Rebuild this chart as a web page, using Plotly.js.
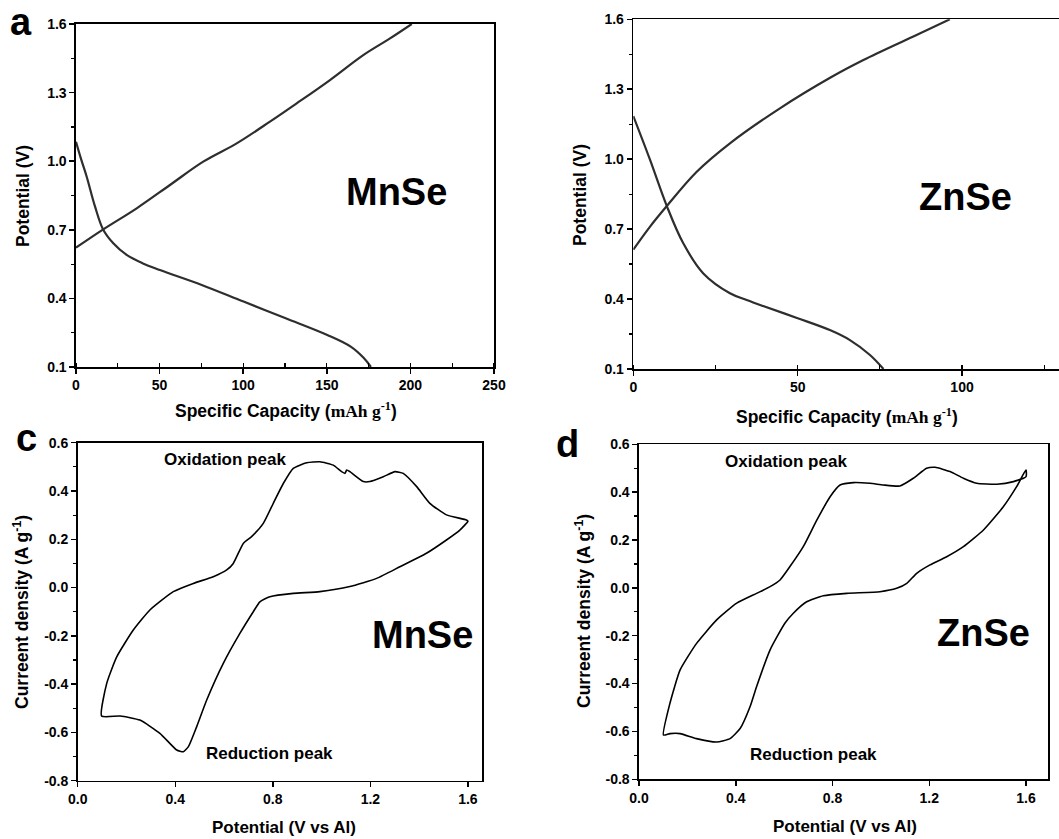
<!DOCTYPE html>
<html>
<head>
<meta charset="utf-8">
<script src="https://cdn.plot.ly/plotly-3.0.1.min.js"></script>
<style>html,body{margin:0;padding:0;background:#fff}#chart{width:1059px;height:839px}</style>
</head>
<body>
<div id="chart"></div>
<script>
// ---- Panel a: MnSe charge/discharge ----
const capA_charge = [0, 16.3, 36.3, 56.2, 76.1, 96.1, 116, 132, 151.9, 171.8, 187.8, 200.8];
const VA_charge   = [0.622, 0.702, 0.794, 0.896, 0.998, 1.078, 1.173, 1.253, 1.355, 1.464, 1.537, 1.6];
const capA_dis = [0, 3, 6.4, 11.4, 16.3, 22.3, 30.3, 40, 50.2, 75.2, 100.2, 125.4, 150.3, 164.3, 172, 176.4];
const VA_dis   = [1.085, 1.01, 0.932, 0.801, 0.70, 0.641, 0.59, 0.553, 0.524, 0.459, 0.386, 0.313, 0.240, 0.189, 0.14, 0.1];

// ---- Panel b: ZnSe charge/discharge ----
const capB_charge = [0, 5.1, 10.2, 19.3, 29.4, 44.6, 60, 70, 85.2, 96.3];
const VB_charge   = [0.612, 0.711, 0.799, 0.946, 1.068, 1.218, 1.35, 1.425, 1.526, 1.6];
const capB_dis = [0, 5.1, 10.2, 15.2, 21.3, 29.4, 34.5, 39.5, 50, 59.8, 65.9, 72, 76.1];
const VB_dis   = [1.185, 0.997, 0.799, 0.639, 0.51, 0.425, 0.396, 0.37, 0.318, 0.267, 0.224, 0.16, 0.1];

// ---- Panel c: MnSe CV ----
const potC = [0.098,0.119,0.16,0.228,0.296,0.392,0.474,0.556,0.611,0.638,0.679,0.713,0.761,0.802,0.843,0.884,0.939,0.993,1.048,1.082,1.096,1.103,1.116,1.171,1.198,1.253,1.301,1.335,1.39,1.444,1.512,1.594,1.6,1.567,1.512,1.43,1.321,1.226,1.116,0.993,0.884,0.788,0.747,0.72,0.665,0.597,0.529,0.488,0.454,0.433,0.406,0.337,0.255,0.174,0.098];
const curC = [-0.532,-0.397,-0.287,-0.176,-0.093,-0.017,0.017,0.045,0.073,0.1,0.183,0.211,0.266,0.349,0.431,0.494,0.517,0.521,0.507,0.480,0.473,0.487,0.480,0.439,0.439,0.459,0.480,0.473,0.418,0.349,0.301,0.28,0.275,0.238,0.197,0.142,0.086,0.038,0.004,-0.017,-0.024,-0.038,-0.059,-0.1,-0.19,-0.314,-0.466,-0.576,-0.659,-0.68,-0.673,-0.604,-0.549,-0.532,-0.532];

// ---- Panel d: ZnSe CV ----
const potD = [0.101,0.128,0.17,0.238,0.321,0.404,0.486,0.542,0.583,0.624,0.679,0.735,0.79,0.831,0.886,0.955,1.01,1.079,1.134,1.189,1.224,1.286,1.341,1.396,1.479,1.548,1.6,1.6,1.561,1.506,1.424,1.341,1.272,1.203,1.148,1.107,1.065,0.996,0.859,0.762,0.693,0.638,0.603,0.542,0.486,0.459,0.418,0.376,0.321,0.238,0.17,0.128,0.101];
const curD = [-0.615,-0.482,-0.343,-0.232,-0.134,-0.064,-0.023,0.005,0.033,0.089,0.172,0.283,0.381,0.43,0.44,0.437,0.43,0.426,0.458,0.5,0.504,0.486,0.458,0.437,0.433,0.444,0.465,0.493,0.423,0.339,0.242,0.172,0.13,0.096,0.061,0.019,-0.002,-0.016,-0.023,-0.033,-0.058,-0.106,-0.148,-0.259,-0.413,-0.497,-0.588,-0.63,-0.644,-0.63,-0.609,-0.609,-0.615];

// ---- Tick labels ----
const potTickVals = [0.1, 0.4, 0.7, 1.0, 1.3, 1.6];
const potTickText = ['0.1', '0.4', '0.7', '1.0', '1.3', '1.6'];
const curTickVals = [-0.8, -0.6, -0.4, -0.2, 0.0, 0.2, 0.4, 0.6];
const curTickText = ['-0.8', '-0.6', '-0.4', '-0.2', '0.0', '0.2', '0.4', '0.6'];
const cvXTickVals = [0.0, 0.4, 0.8, 1.2, 1.6];
const cvXTickText = ['0.0', '0.4', '0.8', '1.2', '1.6'];

const W = 1059, H = 839;
const px = x => x / W;
const py = y => 1 - y / H;
const FONT = 'Liberation Sans, Arial, sans-serif';

const lineGC = {color: '#2e2e2e', width: 2.2, shape: 'spline', smoothing: 1.0};
const lineCV = {color: '#000', width: 1.6, shape: 'spline', smoothing: 0.5};

const traces = [
  {x: capA_charge, y: VA_charge, xaxis: 'x', yaxis: 'y', mode: 'lines', line: lineGC},
  {x: capA_dis, y: VA_dis, xaxis: 'x', yaxis: 'y', mode: 'lines', line: lineGC},
  {x: capB_charge, y: VB_charge, xaxis: 'x2', yaxis: 'y2', mode: 'lines', line: lineGC},
  {x: capB_dis, y: VB_dis, xaxis: 'x2', yaxis: 'y2', mode: 'lines', line: lineGC},
  {x: potC, y: curC, xaxis: 'x3', yaxis: 'y3', mode: 'lines', line: lineCV},
  {x: potD, y: curD, xaxis: 'x4', yaxis: 'y4', mode: 'lines', line: lineCV}
];

const tickFont = {family: FONT, size: 14, weight: 700, color: '#000'};
function ax(extra) {
  return Object.assign({
    showline: true, linecolor: '#000', linewidth: 1.6,
    showgrid: false, zeroline: false,
    ticks: 'outside', ticklen: 5, tickwidth: 1.5, tickcolor: '#000',
    tickfont: tickFont, fixedrange: true
  }, extra);
}

const layout = {
  width: W, height: H,
  margin: {l: 0, r: 0, t: 0, b: 0},
  paper_bgcolor: '#fff', plot_bgcolor: '#fff',
  showlegend: false,
  xaxis: ax({domain: [px(76), px(494)], range: [0, 250], dtick: 50, tick0: 0, mirror: true, anchor: 'y',
    minor: {dtick: 25, ticks: 'inside', ticklen: 4, tickwidth: 1.2, tickcolor: '#000'}}),
  yaxis: ax({domain: [py(367), py(24)], range: [0.1, 1.6], tickvals: potTickVals, ticktext: potTickText, mirror: true, anchor: 'x',
    minor: {tickvals: [0.25, 0.55, 0.85, 1.15, 1.45], ticks: 'outside', ticklen: 3, tickwidth: 1.2, tickcolor: '#000'}}),
  xaxis2: ax({domain: [px(633.3), 1], range: [0, 129.5], dtick: 50, tick0: 0, mirror: true, anchor: 'y2',
    minor: {dtick: 25, ticks: 'inside', ticklen: 4, tickwidth: 1.2, tickcolor: '#000'}}),
  yaxis2: ax({domain: [py(369), py(19.3)], range: [0.1, 1.6], tickvals: potTickVals, ticktext: potTickText, mirror: false, anchor: 'x2',
    minor: {tickvals: [0.25, 0.55, 0.85, 1.15, 1.45], ticks: 'outside', ticklen: 3, tickwidth: 1.2, tickcolor: '#000'}}),
  xaxis3: ax({domain: [px(77.7), px(482.3)], range: [0, 1.659], tickvals: cvXTickVals, ticktext: cvXTickText, mirror: true, anchor: 'y3'}),
  yaxis3: ax({domain: [py(780.7), py(442.7)], range: [-0.8, 0.6], tickvals: curTickVals, ticktext: curTickText, mirror: true, anchor: 'x3',
    minor: {tickvals: [-0.7, -0.5, -0.3, -0.1, 0.1, 0.3, 0.5], ticks: 'outside', ticklen: 3, tickwidth: 1.2, tickcolor: '#000'}}),
  xaxis4: ax({domain: [px(639), px(1048.3)], range: [0, 1.692], tickvals: cvXTickVals, ticktext: cvXTickText, mirror: true, anchor: 'y4'}),
  yaxis4: ax({domain: [py(779.3), py(444.3)], range: [-0.8, 0.6], tickvals: curTickVals, ticktext: curTickText, mirror: true, anchor: 'x4',
    minor: {tickvals: [-0.7, -0.5, -0.3, -0.1, 0.1, 0.3, 0.5], ticks: 'outside', ticklen: 3, tickwidth: 1.2, tickcolor: '#000'}}),
  annotations: []
};

function note(text, x, y, size, angle) {
  layout.annotations.push({
    text: text, xref: 'paper', yref: 'paper', x: px(x), y: py(y),
    xanchor: 'center', yanchor: 'middle', showarrow: false, textangle: angle || 0,
    font: {family: FONT, size: size, weight: 700, color: '#000'}
  });
}
const capTitle = 'Specific Capacity (<span style="font-family:Liberation Serif, Times New Roman, serif">mAh g<sup>-1</sup></span>)';
const curTitle = 'Curreent density (A g<sup>-1</sup>)';

// panel letters
note('a', 21, 22, 38);
note('c', 26, 438, 38);
note('d', 567, 444, 38);
// axis titles
note(capTitle, 286, 410, 17.5);
note(capTitle, 847, 416, 17.5);
note('Potential (V)', 23, 196, 17.5, -90);
note('Potential (V)', 580, 195, 17.5, -90);
note(curTitle, 21, 612, 17.5, -90);
note(curTitle, 583, 611, 17.5, -90);
note('Potential (V vs Al)', 284, 827, 17);
note('Potential (V vs Al)', 845, 826, 17);
// in-plot labels
note('MnSe', 396, 192, 38);
note('ZnSe', 965, 197, 38);
note('MnSe', 422, 635, 38);
note('ZnSe', 983, 633, 38);
note('Oxidation peak', 225, 459, 17);
note('Reduction peak', 269, 753, 17);
note('Oxidation peak', 786, 461, 17);
note('Reduction peak', 813, 754, 17);

Plotly.newPlot('chart', traces, layout, {displayModeBar: false, staticPlot: true});
</script>
</body>
</html>
